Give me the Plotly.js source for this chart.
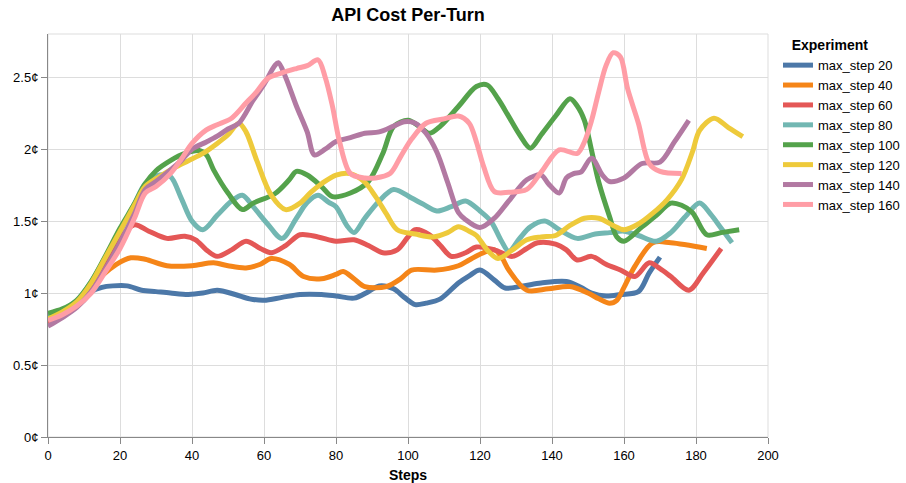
<!DOCTYPE html>
<html>
<head>
<meta charset="utf-8">
<script src="https://cdn.plot.ly/plotly-3.0.1.min.js"></script>
<style>
  html, body { margin: 0; padding: 0; background: #fff; }
  #chart { width: 906px; height: 483px; }
</style>
</head>
<body>
<div id="chart"></div>
<script>
// ---- Data ----
const seriesNames = ["max_step 20", "max_step 40", "max_step 60", "max_step 80",
                     "max_step 100", "max_step 120", "max_step 140", "max_step 160"];
const seriesColors = ["#4c78a8", "#f58518", "#e45756", "#72b7b2",
                      "#54a24b", "#eeca3b", "#b279a2", "#ff9da6"];

const steps20 = [0,4,8,12,15,18,22,26,30,34,39,43,47,52,56,60,65,70,76,80,85,89,92,96,99,102,105,109,114,117,120,124,127,132,137,144,148,151,155,159,164,167,170];
const cost20  = [0.80,0.85,0.92,1.01,1.04,1.05,1.05,1.02,1.01,1.00,0.99,1.00,1.02,0.99,0.96,0.95,0.97,0.99,0.99,0.98,0.965,1.01,1.05,1.03,0.97,0.92,0.93,0.96,1.07,1.12,1.16,1.09,1.035,1.05,1.07,1.08,1.04,1.00,0.98,0.99,1.01,1.14,1.25];

const steps40 = [0,4,8,12,15,19,23,27,33,40,46,50,55,59,62,67,71,76,80,82,85,88,94,98,101,108,114,117,120,124,126,128,133,139,145,150,153,156,158,160,163,168,173,183];
const cost40  = [0.80,0.85,0.92,1.03,1.12,1.20,1.245,1.235,1.19,1.19,1.21,1.19,1.175,1.20,1.24,1.20,1.115,1.10,1.13,1.15,1.10,1.045,1.045,1.10,1.16,1.16,1.19,1.23,1.27,1.30,1.25,1.16,1.02,1.03,1.045,1.00,0.96,0.93,0.95,1.04,1.185,1.35,1.35,1.31];

const steps60 = [0,4,8,12,16,20,24,28,33,38,41,44,47,51,55,59,62,66,70,75,80,85,89,93,97,100,102,106,109,112,116,119,124,129,133,136,141,144,147,151,155,159,163,167,170,173,178,182,187];
const cost60  = [0.80,0.85,0.92,1.03,1.20,1.38,1.475,1.43,1.38,1.395,1.37,1.30,1.255,1.30,1.36,1.31,1.28,1.33,1.405,1.39,1.36,1.37,1.33,1.28,1.30,1.39,1.44,1.405,1.33,1.255,1.28,1.32,1.30,1.255,1.31,1.35,1.34,1.30,1.23,1.255,1.20,1.16,1.115,1.21,1.17,1.115,1.02,1.14,1.31];

const steps80 = [0,4,8,12,16,20,24,27,31,34,37,40,43,47,51,54,57,61,65,69,72,75,78,80,83,85,88,92,96,101,104,108,112,116,120,123,126,128,131,134,138,142,147,152,156,160,164,169,173,177,181,184,187,190];
const cost80  = [0.84,0.88,0.95,1.08,1.25,1.43,1.62,1.76,1.82,1.81,1.66,1.50,1.44,1.54,1.64,1.68,1.60,1.48,1.38,1.52,1.63,1.68,1.63,1.60,1.47,1.42,1.52,1.64,1.72,1.66,1.62,1.57,1.60,1.64,1.57,1.50,1.36,1.29,1.38,1.46,1.50,1.44,1.38,1.41,1.42,1.43,1.40,1.36,1.42,1.53,1.625,1.55,1.45,1.35];

const steps100 = [0,4,8,12,16,20,24,27,30,34,38,42,44,46,50,54,57,63,67,69,72,76,79,84,89,93,96,100,103,106,109,114,119,122,125,128,131,134,137,141,145,147,149,151,153,156,158,160,165,169,173,176,179,183,187,192];
const cost100  = [0.86,0.89,0.95,1.08,1.26,1.45,1.62,1.76,1.85,1.92,1.97,1.99,1.96,1.856,1.695,1.58,1.625,1.69,1.787,1.845,1.82,1.74,1.67,1.695,1.775,1.97,2.157,2.20,2.16,2.11,2.16,2.296,2.435,2.446,2.35,2.226,2.10,2.007,2.10,2.23,2.35,2.30,2.20,1.99,1.77,1.53,1.39,1.36,1.46,1.54,1.625,1.61,1.56,1.405,1.42,1.44];

const steps120 = [0,4,8,12,16,20,24,27,31,35,39,43,47,50,53,55,58,62,66,70,73,76,80,84,88,91,94,97,102,107,111,114,117,119,122,125,129,133,137,141,145,149,153,157,160,164,168,172,176,179,181,185,189,193];
const cost120  = [0.82,0.87,0.94,1.07,1.25,1.43,1.61,1.74,1.81,1.87,1.92,1.97,2.04,2.10,2.18,2.12,1.92,1.68,1.58,1.625,1.70,1.76,1.82,1.83,1.77,1.67,1.55,1.44,1.41,1.39,1.42,1.46,1.43,1.40,1.30,1.24,1.30,1.37,1.39,1.40,1.47,1.52,1.52,1.47,1.44,1.48,1.555,1.65,1.79,1.98,2.13,2.215,2.15,2.087];

const steps140 = [0,4,8,12,16,20,24,27,30,34,37,40,44,47,50,53,57,60,63,64,66,69,72,74,77,80,84,88,92,96,99,102,105,108,111,114,116,120,124,128,133,137,139,142,144,146,148,151,154,156,160,165,170,174,178];
const cost140  = [0.77,0.83,0.90,1.01,1.17,1.35,1.55,1.72,1.775,1.856,1.92,2.00,2.05,2.09,2.14,2.18,2.34,2.45,2.58,2.60,2.50,2.30,2.12,1.96,2.00,2.053,2.08,2.11,2.12,2.16,2.19,2.18,2.11,1.98,1.77,1.56,1.51,1.455,1.52,1.64,1.787,1.82,1.76,1.695,1.80,1.83,1.84,1.937,1.82,1.775,1.80,1.90,1.91,2.05,2.20];

const steps160 = [0,4,8,12,16,20,24,27,30,34,37,40,44,47,51,55,58,61,65,69,72,75,77,79,81,84,88,91,95,98,101,105,110,114,117,119,121,124,128,133,137,142,147,149,151,153,155,157,159,161,164,167,170,176];
const cost160  = [0.81,0.85,0.91,1.00,1.15,1.31,1.52,1.695,1.74,1.83,1.93,2.04,2.134,2.17,2.215,2.32,2.40,2.49,2.53,2.56,2.58,2.62,2.50,2.30,2.05,1.83,1.80,1.80,1.83,1.95,2.07,2.18,2.21,2.23,2.18,2.05,1.88,1.705,1.70,1.72,1.84,1.995,1.97,2.05,2.20,2.40,2.58,2.67,2.64,2.42,2.18,1.90,1.845,1.83];

const xTickVals = [0,20,40,60,80,100,120,140,160,180,200];
const yTickVals = [0,0.5,1,1.5,2,2.5];
const yTickText = ["0¢","0.5¢","1¢","1.5¢","2¢","2.5¢"];

// ---- Build traces ----
const allSteps = [steps20, steps40, steps60, steps80, steps100, steps120, steps140, steps160];
const allCosts = [cost20, cost40, cost60, cost80, cost100, cost120, cost140, cost160];

const FONT = '"Liberation Sans", Arial, Helvetica, sans-serif';

const traces = seriesNames.map((name, i) => ({
  type: 'scatter',
  mode: 'lines',
  name: name,
  x: allSteps[i],
  y: allCosts[i],
  line: { color: seriesColors[i], width: 5, shape: 'spline', smoothing: 0.9 },
  hoverinfo: 'skip'
}));

const layout = {
  width: 906,
  height: 483,
  margin: { l: 48, r: 138, t: 34, b: 45.5, pad: 0, autoexpand: false },
  paper_bgcolor: '#ffffff',
  plot_bgcolor: '#ffffff',
  font: { family: FONT, color: '#000', size: 13 },
  title: {
    text: '<b>API Cost Per-Turn</b>',
    font: { family: FONT, size: 18, color: '#000' },
    x: 0.5, xref: 'paper', xanchor: 'center',
    y: 1 - 15 / 483, yref: 'container', yanchor: 'middle'
  },
  xaxis: {
    range: [0, 200],
    tickvals: xTickVals,
    ticks: 'outside', ticklen: 6, tickcolor: '#888', tickwidth: 1,
    showline: true, linecolor: '#888', linewidth: 1,
    showgrid: true, gridcolor: '#ddd', gridwidth: 1,
    zeroline: false,
    tickfont: { family: FONT, size: 13, color: '#000' },
    title: { text: '<b>Steps</b>', font: { family: FONT, size: 14, color: '#000' }, standoff: 10 },
    automargin: false,
    fixedrange: true
  },
  yaxis: {
    range: [0, 2.8],
    tickvals: yTickVals,
    ticktext: yTickText,
    ticks: 'outside', ticklen: 6, tickcolor: '#888', tickwidth: 1,
    showline: true, linecolor: '#888', linewidth: 1,
    showgrid: true, gridcolor: '#ddd', gridwidth: 1,
    zeroline: false,
    tickfont: { family: FONT, size: 13, color: '#000' },
    automargin: false,
    fixedrange: true
  },
  shapes: [{
    type: 'rect', xref: 'paper', yref: 'paper',
    x0: 0, x1: 1, y0: 0, y1: 1,
    line: { color: '#ddd', width: 1 },
    layer: 'below'
  }],
  showlegend: true,
  legend: {
    x: 1.0139, xanchor: 'left',
    y: 1.005, yanchor: 'top',
    bgcolor: 'rgba(0,0,0,0)',
    borderwidth: 0,
    font: { family: FONT, size: 13, color: '#000' },
    title: { text: '&nbsp;&nbsp;&nbsp;<b>Experiment</b>', font: { family: FONT, size: 14, color: '#000' } },
    traceorder: 'normal',
    itemclick: false, itemdoubleclick: false
  }
};

Plotly.newPlot('chart', traces, layout, { displayModeBar: false, staticPlot: true });
</script>
</body>
</html>
